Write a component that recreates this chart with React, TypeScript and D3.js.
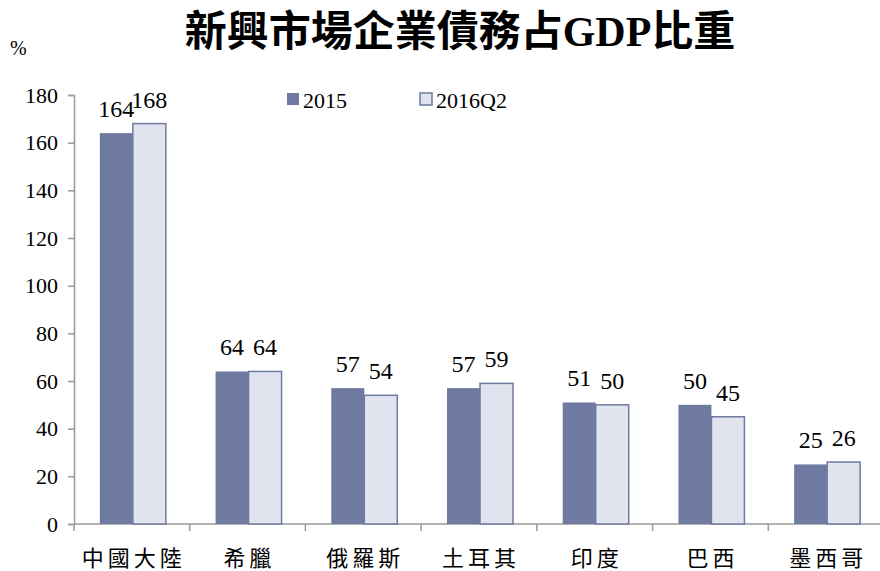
import * as d3 from "d3";
import { useLayoutEffect, useRef } from "react";

const categories = ["中國大陸", "希臘", "俄羅斯", "土耳其", "印度", "巴西", "墨西哥"];
const series2015 = [164, 64, 57, 57, 51, 50, 25];
const series2016Q2 = [168, 64, 54, 59, 50, 45, 26];
const seriesNames = ["2015", "2016Q2"];
const yTicks = [0, 20, 40, 60, 80, 100, 120, 140, 160, 180];

const WIDTH = 880;
const HEIGHT = 571;
const X0 = 74;
const X1 = 884;
const Y0 = 524;
const Y1 = 95;
const DARK = "#6f7aa0";
const LIGHT = "#e1e4ee";
const SERIF = "Liberation Serif, DejaVu Serif, serif";
const TITLE = "Liberation Serif, Noto Sans CJK TC, serif";
const CJK = "Noto Sans CJK TC, sans-serif";

export default function App() {
  const svgElement = useRef<SVGSVGElement | null>(null);

  useLayoutEffect(() => {
    const svg = d3.select(svgElement.current);
    svg.selectAll("*").remove();

    const x = d3.scaleBand<string>().domain(categories).range([X0, X1]);
    const y = d3.scaleLinear().domain([0, 180]).range([Y0, Y1]);
    const barW = 33;

    // title
    svg
      .append("text")
      .attr("x", 460)
      .attr("y", 46)
      .attr("text-anchor", "middle")
      .attr("font-family", TITLE)
      .attr("font-weight", "bold")
      .attr("font-size", 42)
      .text("新興市場企業債務占GDP比重");

    svg
      .append("text")
      .attr("x", 10)
      .attr("y", 55)
      .attr("font-family", SERIF)
      .attr("font-size", 20)
      .text("%");

    // y axis
    const yAxis = svg
      .append("g")
      .attr("transform", `translate(${X0},0)`)
      .call(d3.axisLeft(y).tickValues(yTicks).tickSize(6).tickPadding(10))
      .attr("font-family", SERIF)
      .attr("font-size", 22);
    yAxis.select(".domain").attr("stroke", "#999").attr("stroke-width", 1.5);
    yAxis.selectAll(".tick line").attr("stroke", "#999").attr("stroke-width", 1.5);
    yAxis.selectAll(".tick text").attr("fill", "#000");

    // x axis
    const bounds = categories.map((c) => x(c) as number);
    const xAxis = svg.append("g");
    xAxis
      .append("line")
      .attr("x1", X0)
      .attr("x2", X1)
      .attr("y1", Y0)
      .attr("y2", Y0)
      .attr("stroke", "#999")
      .attr("stroke-width", 1.5);
    xAxis
      .selectAll("line.tk")
      .data(bounds)
      .join("line")
      .attr("class", "tk")
      .attr("x1", (d) => d)
      .attr("x2", (d) => d)
      .attr("y1", Y0)
      .attr("y2", Y0 + 7)
      .attr("stroke", "#999")
      .attr("stroke-width", 1.5);
    xAxis
      .selectAll("text")
      .data(categories)
      .join("text")
      .attr("x", (d) => (x(d) as number) + x.bandwidth() / 2 + 2)
      .attr("y", 566)
      .attr("text-anchor", "middle")
      .attr("font-family", CJK)
      .attr("font-size", 22)
      .style("letter-spacing", "4px")
      .text((d) => d);

    // bars
    const groups = [series2015, series2016Q2];
    groups.forEach((vals, si) => {
      const g = svg.append("g");
      const bx = (i: number) =>
        (x(categories[i]) as number) + x.bandwidth() / 2 - barW + si * barW + 1;
      g.selectAll("rect")
        .data(vals)
        .join("rect")
        .attr("x", (_, i) => bx(i))
        .attr("y", (d) => y(d))
        .attr("width", barW)
        .attr("height", (d) => Y0 - y(d))
        .attr("fill", si === 0 ? DARK : LIGHT)
        .attr("stroke", si === 0 ? "none" : DARK)
        .attr("stroke-width", 1.5);
      g.selectAll("text")
        .data(vals)
        .join("text")
        .attr("x", (_, i) => bx(i) + barW / 2)
        .attr("y", (d) => y(d) - 16)
        .attr("text-anchor", "middle")
        .attr("font-family", SERIF)
        .attr("font-size", 24)
        .text((d) => d);
    });

    // legend
    const legendX = [287, 420];
    seriesNames.forEach((name, i) => {
      svg
        .append("rect")
        .attr("x", legendX[i])
        .attr("y", 93)
        .attr("width", 12)
        .attr("height", 12)
        .attr("fill", i === 0 ? DARK : LIGHT)
        .attr("stroke", i === 0 ? "none" : DARK)
        .attr("stroke-width", 1.5);
      svg
        .append("text")
        .attr("x", legendX[i] + 16)
        .attr("y", 108)
        .attr("font-family", SERIF)
        .attr("font-size", 22)
        .text(name);
    });
  }, []);

  return (
    <svg
      ref={svgElement}
      width={WIDTH}
      height={HEIGHT}
      style={{ position: "absolute", left: 0, top: 0, background: "#fff" }}
    ></svg>
  );
}
